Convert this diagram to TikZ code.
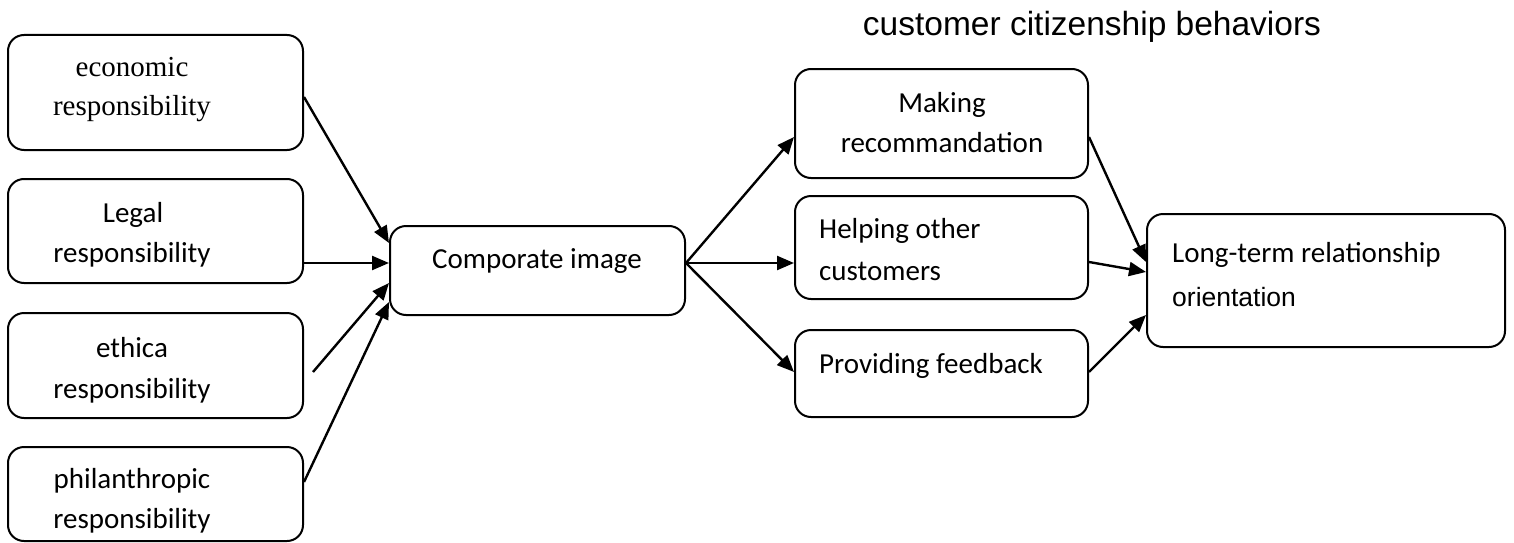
\documentclass[tikz,border=0pt]{standalone}
\usepackage{fontspec}
\usetikzlibrary{arrows.meta}
\newfontfamily\calfont{Carlito}
\newfontfamily\tnrfont{Liberation Serif}
\newfontfamily\arifont{Liberation Sans}
\begin{document}
\begin{tikzpicture}[x=1pt,y=-1pt,
  box/.style={draw,line width=2pt,rounded corners=16pt,inner sep=0pt},
  txt/.style={anchor=base,inner sep=0pt,font=\calfont\fontsize{29}{35}\selectfont},
  txtl/.style={anchor=base west,inner sep=0pt,font=\calfont\fontsize{29}{35}\selectfont},
  conn/.style={line width=2.4pt,-{Triangle[length=17pt,width=14pt]}}]
\useasboundingbox (0,0) rectangle (1514,543);
% boxes
\node[box,minimum width=295pt,minimum height=115pt] (econ) at (155.5,92.5) {};
\node[box,minimum width=295pt,minimum height=104pt] (legal) at (155.5,231) {};
\node[box,minimum width=295pt,minimum height=105pt] (ethica) at (155.5,365.5) {};
\node[box,minimum width=295pt,minimum height=94pt] (phil) at (155.5,494) {};
\node[box,minimum width=295pt,minimum height=89pt] (comp) at (537.5,270.5) {};
\node[box,minimum width=293pt,minimum height=109pt] (making) at (941.5,123.5) {};
\node[box,minimum width=293pt,minimum height=103pt] (helping) at (941.5,247.5) {};
\node[box,minimum width=293pt,minimum height=87pt] (prov) at (941.5,373.5) {};
\node[box,minimum width=358pt,minimum height=133pt] (long) at (1326,280.5) {};
% texts
\node[txt,font=\tnrfont\fontsize{29}{35}\selectfont] (t1a) at (132,77) {economic};
\node[txt,font=\tnrfont\fontsize{29}{35}\selectfont] (t1b) at (132,115) {responsibility};
\node[txt] (t2a) at (133,222) {Legal};
\node[txt] (t2b) at (132,262) {responsibility};
\node[txt] (t3a) at (132,357) {ethica};
\node[txt] (t3b) at (132,398) {responsibility};
\node[txt] (t4a) at (132,488) {philanthropic};
\node[txt] (t4b) at (132,528) {responsibility};
\node[txt] (t5) at (537,268) {Comporate image};
\node[txt] (t6a) at (942,112) {Making};
\node[txt] (t6b) at (942,152) {recommandation};
\node[txtl] (t7a) at (819,238) {Helping other};
\node[txtl] (t7b) at (819,280) {customers};
\node[txtl] (t8) at (819,373) {Providing feedback};
\node[txtl] (t9a) at (1172,262) {Long-term relationship};
\node[txtl,font=\arifont\fontsize{26.5}{30}\selectfont] (t9b) at (1172,306) {orientation};
\node[anchor=base,inner sep=0pt,font=\arifont\fontsize{33.5}{40}\selectfont] (title) at (1092,36) {customer citizenship behaviors};
% connectors
\coordinate (ethstart) at (313,372);
\draw[conn] ([yshift=-4.5pt]econ.east) -- ([yshift=27.5pt]comp.west);
\draw[conn] ([yshift=-32pt]legal.east) -- ([yshift=7.5pt]comp.west);
\draw[conn] (ethstart) -- ([yshift=-12.5pt]comp.west);
\draw[conn] ([yshift=12pt]phil.east) -- ([yshift=-31.5pt]comp.west);
\draw[conn] ([yshift=7.5pt]comp.east) -- ([yshift=-13.5pt]making.west);
\draw[conn] ([yshift=7.5pt]comp.east) -- ([yshift=-15.5pt]helping.west);
\draw[conn] ([yshift=7.5pt]comp.east) -- ([yshift=1.5pt]prov.west);
\draw[conn] ([yshift=-13.5pt]making.east) -- ([yshift=18.5pt]long.west);
\draw[conn] ([yshift=-14.5pt]helping.east) -- ([yshift=8.5pt]long.west);
\draw[conn] ([yshift=1.5pt]prov.east) -- ([yshift=-34.5pt]long.west);
\end{tikzpicture}
\end{document}
